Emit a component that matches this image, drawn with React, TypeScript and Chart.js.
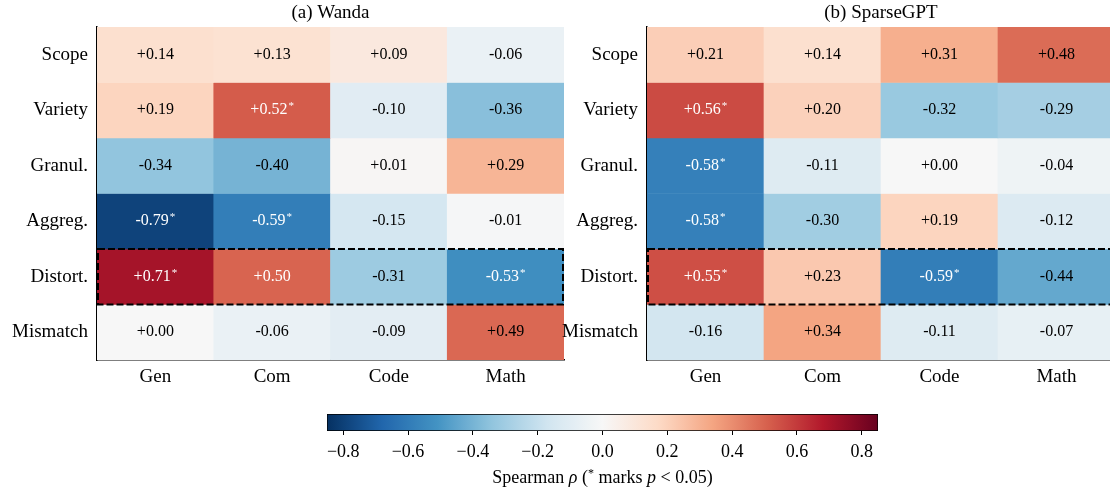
import React, { useEffect, useRef } from "react";
import { Chart, registerables } from "chart.js";

Chart.register(...registerables);

// ---------------- data ----------------
const columns = ["Gen", "Com", "Code", "Math"];
const rows = ["Scope", "Variety", "Granul.", "Aggreg.", "Distort.", "Mismatch"];

const wandaValues = [
  [0.14, 0.13, 0.09, -0.06],
  [0.19, 0.52, -0.1, -0.36],
  [-0.34, -0.4, 0.01, 0.29],
  [-0.79, -0.59, -0.15, -0.01],
  [0.71, 0.5, -0.31, -0.53],
  [0.0, -0.06, -0.09, 0.49],
];
const wandaSig = [
  [false, false, false, false],
  [false, true, false, false],
  [false, false, false, false],
  [true, true, false, false],
  [true, false, false, true],
  [false, false, false, false],
];

const sparseValues = [
  [0.21, 0.14, 0.31, 0.48],
  [0.56, 0.2, -0.32, -0.29],
  [-0.58, -0.11, 0.0, -0.04],
  [-0.58, -0.3, 0.19, -0.12],
  [0.55, 0.23, -0.59, -0.44],
  [-0.16, 0.34, -0.11, -0.07],
];
const sparseSig = [
  [false, false, false, false],
  [true, false, false, false],
  [true, false, false, false],
  [true, false, false, false],
  [true, false, true, false],
  [false, false, false, false],
];

const highlightRow = 4;
const colorbarTicks = [-0.8, -0.6, -0.4, -0.2, 0, 0.2, 0.4, 0.6, 0.8];
const vMin = -0.85;
const vMax = 0.85;
const titleA = "(a) Wanda";
const titleB = "(b) SparseGPT";

// RdBu colormap (ColorBrewer 11 stops), used reversed
const RDBU: number[][] = [
  [103, 0, 31],
  [178, 24, 43],
  [214, 96, 77],
  [244, 165, 130],
  [253, 219, 199],
  [247, 247, 247],
  [209, 229, 240],
  [146, 197, 222],
  [67, 147, 195],
  [33, 102, 172],
  [5, 48, 97],
];

function cmapT(t: number): string {
  t = Math.max(0, Math.min(1, t));
  const s = (1 - t) * 10;
  const i = Math.min(9, Math.floor(s));
  const f = s - i;
  const a = RDBU[i];
  const b = RDBU[i + 1];
  const c = a.map((v, k) => Math.round(v + (b[k] - v) * f));
  return `rgb(${c[0]},${c[1]},${c[2]})`;
}
function cmap(v: number): string {
  return cmapT((v - vMin) / (vMax - vMin));
}
function fmt(v: number): string {
  return (v >= 0 ? "+" : "-") + Math.abs(v).toFixed(2);
}

const FONT = "'Liberation Serif', 'DejaVu Serif', serif";

// ---------------- heatmap ----------------
type HeatProps = {
  values: number[][];
  sig: boolean[][];
  title: string;
  left: number;
  width: number;
  height: number;
  yAxisWidth: number;
  rightPad: number;
  xAxisHeight: number;
};

function Heatmap(p: HeatProps) {
  const ref = useRef<HTMLCanvasElement>(null);
  useEffect(() => {
    if (!ref.current) return;
    const cellLabels = {
      id: "cellLabels",
      afterDatasetsDraw(chart: any) {
        const ctx = chart.ctx;
        ctx.save();
        chart.data.datasets.forEach((_: any, i: number) => {
          const meta = chart.getDatasetMeta(i);
          meta.data.forEach((el: any, j: number) => {
            const { x, y, base } = el.getProps(["x", "y", "base"], true);
            const cy = (y + base) / 2;
            const v = p.values[i][j];
            const txt = fmt(v);
            const color = Math.abs(v) >= 0.5 ? "#ffffff" : "#000000";
            ctx.fillStyle = color;
            ctx.textBaseline = "middle";
            ctx.textAlign = "left";
            ctx.font = `16px ${FONT}`;
            const w1 = ctx.measureText(txt).width;
            let w2 = 0;
            if (p.sig[i][j]) {
              ctx.font = `11px ${FONT}`;
              w2 = ctx.measureText("*").width + 1;
            }
            const x0 = x - (w1 + w2) / 2;
            ctx.font = `16px ${FONT}`;
            ctx.fillText(txt, x0, cy);
            if (p.sig[i][j]) {
              ctx.font = `11px ${FONT}`;
              ctx.fillText("*", x0 + w1 + 1, cy - 4);
            }
          });
        });
        ctx.restore();
      },
    };
    const highlight = {
      id: "highlight",
      afterDraw(chart: any) {
        const ctx = chart.ctx;
        const ys = chart.scales.y;
        const area = chart.chartArea;
        const top = ys.getPixelForValue(highlightRow);
        const bot = ys.getPixelForValue(highlightRow + 1);
        ctx.save();
        ctx.strokeStyle = "#000";
        ctx.lineWidth = 2;
        ctx.setLineDash([7, 3]);
        ctx.strokeRect(area.left + 1, top, area.right - area.left - 2, bot - top);
        ctx.restore();
      },
    };
    const titlePlugin = {
      id: "panelTitle",
      afterDraw(chart: any) {
        const ctx = chart.ctx;
        const area = chart.chartArea;
        ctx.save();
        ctx.fillStyle = "#000";
        ctx.font = `19px ${FONT}`;
        ctx.textAlign = "center";
        ctx.textBaseline = "middle";
        ctx.fillText(p.title, (area.left + area.right) / 2, 13);
        ctx.restore();
      },
    };
    const chart = new Chart(ref.current, {
      type: "bar",
      data: {
        labels: columns,
        datasets: rows.map((r, i) => ({
          label: r,
          data: columns.map(() => [i, i + 1]) as any,
          backgroundColor: p.values[i].map(cmap),
          borderWidth: 0,
          grouped: false,
          barPercentage: 1,
          categoryPercentage: 1,
        })),
      },
      options: {
        responsive: false,
        animation: false,
        layout: { padding: { top: 27, right: p.rightPad, left: 0, bottom: 0 } },
        plugins: {
          legend: { display: false },
          tooltip: { enabled: false },
          title: { display: false },
        },
        scales: {
          x: {
            type: "category",
            offset: true,
            z: 1,
            grid: { display: false, drawTicks: false },
            border: { display: true, color: "#000", width: 1.5 },
            ticks: { font: { family: FONT, size: 19 }, color: "#000", padding: 6, maxRotation: 0 },
            afterFit: (s: any) => {
              s.height = p.xAxisHeight;
            },
          },
          y: {
            type: "linear",
            min: 0,
            max: 6,
            reverse: true,
            z: 1,
            grid: { display: false, drawTicks: false },
            border: { display: true, color: "#000", width: 1.5 },
            ticks: {
              font: { family: FONT, size: 19 },
              color: "#000",
              padding: 9,
              autoSkip: false,
              callback: (v: any) => rows[Math.floor(Number(v))] ?? "",
            },
            afterBuildTicks: (s: any) => {
              s.ticks = rows.map((_, i) => ({ value: i + 0.5 }));
            },
            afterFit: (s: any) => {
              s.width = p.yAxisWidth;
            },
          },
        },
      } as any,
      plugins: [cellLabels, highlight, titlePlugin],
    });
    return () => chart.destroy();
  }, []);
  return (
    <canvas
      ref={ref}
      width={p.width}
      height={p.height}
      style={{ position: "absolute", left: p.left, top: 0, width: p.width, height: p.height }}
    />
  );
}

// ---------------- colorbar ----------------
function Colorbar() {
  const ref = useRef<HTMLCanvasElement>(null);
  useEffect(() => {
    if (!ref.current) return;
    const chart = new Chart(ref.current, {
      type: "bar",
      data: {
        labels: ["rho"],
        datasets: [
          {
            data: [[vMin, vMax]] as any,
            backgroundColor: (ctx: any) => {
              const area = ctx.chart.chartArea;
              if (!area) return "#ccc";
              const g = ctx.chart.ctx.createLinearGradient(area.left, 0, area.right, 0);
              for (let k = 0; k <= 40; k++) g.addColorStop(k / 40, cmapT(k / 40));
              return g;
            },
            borderColor: "#000",
            borderWidth: 1,
            borderSkipped: false,
            barPercentage: 1,
            categoryPercentage: 1,
          },
        ],
      },
      options: {
        indexAxis: "y",
        responsive: false,
        animation: false,
        layout: { padding: { top: 14, left: 27, right: 32, bottom: 0 } },
        plugins: { legend: { display: false }, tooltip: { enabled: false } },
        scales: {
          y: { display: false, type: "category" },
          x: {
            type: "linear",
            min: vMin,
            max: vMax,
            grid: { display: true, drawOnChartArea: false, drawTicks: true, tickLength: 4, color: "#000", lineWidth: 1 },
            border: { display: false },
            ticks: {
              font: { family: FONT, size: 18 },
              color: "#000",
              padding: 6,
              autoSkip: false,
              maxRotation: 0,
              callback: (v: any) => {
                const n = Number(v);
                const s = Math.abs(n).toFixed(1);
                return n < -1e-9 ? "\u2212" + s : s;
              },
            },
            afterBuildTicks: (s: any) => {
              s.ticks = colorbarTicks.map((v) => ({ value: v }));
            },
            afterFit: (s: any) => {
              s.height = 39;
            },
          },
        },
      } as any,
    });
    return () => chart.destroy();
  }, []);
  return (
    <canvas
      ref={ref}
      width={610}
      height={70}
      style={{ position: "absolute", left: 300, top: 400, width: 610, height: 70 }}
    />
  );
}

export default function App() {
  return (
    <div
      style={{
        position: "absolute",
        left: 0,
        top: 0,
        width: 1110,
        height: 488,
        overflow: "hidden",
        background: "#fff",
      }}
    >
      <Heatmap
        values={wandaValues}
        sig={wandaSig}
        title={titleA}
        left={0}
        width={580}
        height={400}
        yAxisWidth={97}
        rightPad={16}
        xAxisHeight={40}
      />
      <Heatmap
        values={sparseValues}
        sig={sparseSig}
        title={titleB}
        left={540}
        width={580}
        height={400}
        yAxisWidth={107}
        rightPad={5}
        xAxisHeight={40}
      />
      <Colorbar />
      <div
        style={{
          position: "absolute",
          left: 327,
          width: 551,
          top: 465,
          height: 24,
          lineHeight: "24px",
          textAlign: "center",
          fontFamily: FONT,
          fontSize: 18,
          color: "#000",
          whiteSpace: "nowrap",
        }}
      >
        Spearman <i>ρ</i> (<span style={{ fontSize: 12, position: "relative", top: -6 }}>*</span> marks{" "}
        <i>p</i> &lt; 0.05)
      </div>
    </div>
  );
}
